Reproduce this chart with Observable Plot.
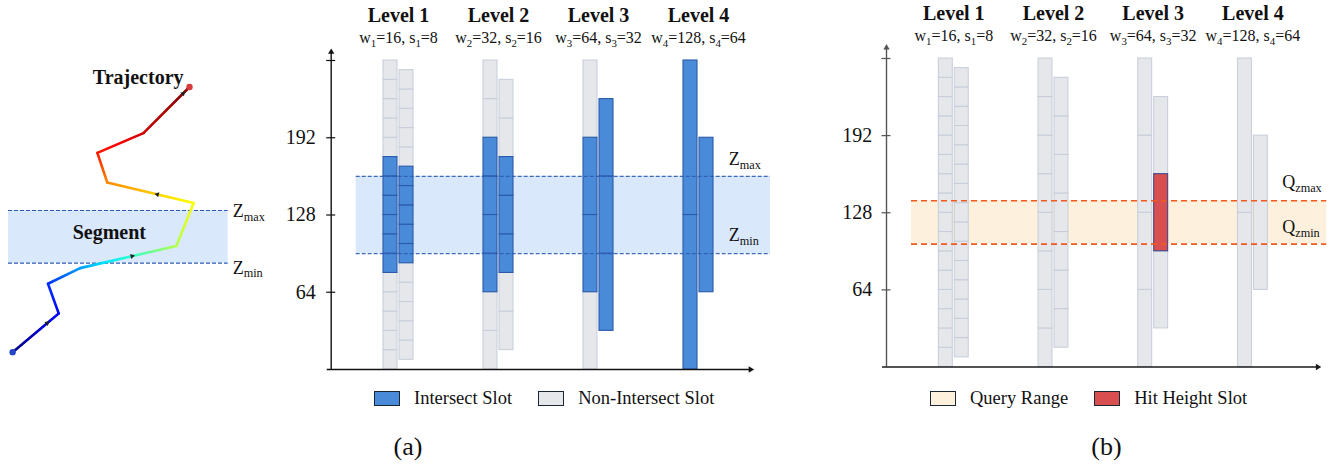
<!DOCTYPE html>
<html>
<head>
<meta charset="utf-8">
<script src="https://cdn.jsdelivr.net/npm/d3@7"></script>
<script src="https://cdn.jsdelivr.net/npm/@observablehq/plot@0.6"></script>
<style>
  html, body { margin: 0; background: #fff; }
  #fig { position: relative; width: 1338px; height: 464px; overflow: hidden;
         font-family: "Liberation Serif", "Times New Roman", Times, serif; color: #111; }
  #fig svg { position: absolute; left: 0; top: 0; }
  .legend { position: absolute; top: 390.7px; height: 15px; display: flex; align-items: center;
            font-size: 18.5px; line-height: 1; white-space: nowrap; }
  .legend .sw { box-sizing: border-box; width: 26px; height: 15px; border: 1.6px solid #1b2633; margin-right: 14px; }
  .legend .lab { margin-right: 26px; }
  .caption { position: absolute; font-size: 26px; line-height: 1; white-space: nowrap; transform: translateX(-50%); }
</style>
</head>
<body>
<div id="fig"></div>
<script>
// ---- data -------------------------------------------------------------
const levels = [1, 2, 3, 4];
const windowSizes = [16, 32, 64, 128];   // w_i
const strides = [8, 16, 32, 64];         // s_i
const maxHeight = 256;
const yTicks = [64, 128, 192];
const segmentRange = [96, 160];          // Z_min, Z_max
const queryRange = [102, 138];           // Q_zmin, Q_zmax

// sample trajectory (horizontal position, height, normalised time)
const trajX = [5, 61, 48, 87, 204, 225, 120, 108, 164, 220];
const trajZ = [-12, 35, 71, 90, 117, 169, 194, 230, 254, 310];
const trajT = [0, 0.13, 0.17, 0.28, 0.55, 0.62, 0.74, 0.85, 0.92, 1];
// direction markers: [segment index, fraction along it]
const trajArrows = [[0, 0.75], [3, 0.54], [5, 0.42], [8, 0.86]];

const legendA = ["Intersect Slot", "Non-Intersect Slot"];
const legendB = ["Query Range", "Hit Height Slot"];

// ---- styles -----------------------------------------------------------
const SERIF = '"Liberation Serif", "Times New Roman", Times, serif';
const W = 1338, H = 464;
const C = {
  blue: "#4a8bd9", blueEdge: "#2a5aa9",
  grey: "#e5e7eb", greyEdge: "#c6cdd9",
  segBand: "#dae8fc", segLine: "#2c5cb5",
  qBand: "#fdf0dd", qLine: "#f05a1e",
  hit: "#d94f4f", hitEdge: "#3d4690",
  ink: "#111"
};
const jet = d3.scaleLinear()
  .domain([0, 0.125, 0.375, 0.625, 0.875, 1])
  .range(["#00007f", "#0000ff", "#00ffff", "#ffff00", "#ff0000", "#7f0000"]);

const fig = document.getElementById("fig");

function baseOptions(extra) {
  return Object.assign({
    width: W, height: H, margin: 0,
    color: {type: "identity"},
    style: {background: "transparent", fontFamily: SERIF, color: C.ink, overflow: "visible"}
  }, extra);
}

// turn "w_1=16" / "Z_max" into real subscripts
function applySubscripts(svg) {
  d3.select(svg).selectAll("text").each(function () {
    const raw = this.textContent;
    if (!raw.includes("_")) return;
    const size = parseFloat(getComputedStyle(this).fontSize) || 16;
    const shift = size * 0.22;
    const parts = raw.split(/_([A-Za-z0-9]+)/);
    const t = d3.select(this).text(null);
    let lowered = false;
    parts.forEach((p, i) => {
      if (!p) return;
      const isSub = i % 2 === 1;
      const span = t.append("tspan").text(p);
      if (isSub) span.attr("font-size", size * 0.68);
      if (isSub !== lowered) { span.attr("dy", isSub ? shift : -shift); lowered = isSub; }
    });
  });
}

// ---- slot layout shared by both panels --------------------------------
const slots = levels.flatMap((level, i) => {
  const w = windowSizes[i], s = strides[i];
  return [[0, 0, maxHeight], [1, s, maxHeight - s]].flatMap(([col, from, to]) =>
    d3.range(from, to, w).map(z => ({level, w, col, z1: z, z2: z + w})));
});
const slotX1 = d => d.level + (d.col ? 0.01 : -0.15);
const slotX2 = d => d.level + (d.col ? 0.15 : -0.01);

function axisMarks(F, yColor, xColor) {
  return [
    Plot.ruleX([F.axisX], {y1: 0, y2: F.yEnd, stroke: yColor, strokeWidth: 1.4}),
    Plot.ruleY([0], {x1: F.axisX - 0.04, x2: F.xEnd, stroke: xColor, strokeWidth: 1.6}),
    Plot.dot([0], {x: F.axisX, y: F.yEnd, symbol: "triangle2", r: 3, fill: yColor}),
    Plot.dot([0], {x: F.xEnd, y: 0, symbol: "triangle2", r: 3, rotate: 90, fill: xColor}),
    Plot.ruleY([...yTicks, maxHeight], {x1: F.axisX - 0.045, x2: F.axisX + 0.045, stroke: yColor, strokeWidth: 1.2}),
    Plot.text(yTicks, {x: F.axisX, y: d => d, text: d => `${d}`, textAnchor: "end", dx: F.tickDx, fontSize: 20})
  ];
}

function levelHeaders(F) {
  return [
    Plot.text(levels, {x: d => d, frameAnchor: "top", lineAnchor: "bottom", dy: F.titleY,
      text: d => `Level ${d}`, fontSize: 20, fontWeight: "bold"}),
    Plot.text(levels, {x: d => d, frameAnchor: "top", lineAnchor: "bottom", dy: F.subY,
      text: (d, i) => `w_${d}=${windowSizes[i]}, s_${d}=${strides[i]}`, fontSize: 16})
  ];
}

// ---- trajectory -------------------------------------------------------
const traj = trajX.map((x, i) => ({x, z: trajZ[i], t: trajT[i]}));
const trajSegs = d3.pairs(traj).map(([a, b]) => ({a, b}));
const arrowPts = trajArrows.map(([k, f]) => {
  const {a, b} = trajSegs[k];
  return {x: a.x + f * (b.x - a.x), z: a.z + f * (b.z - a.z),
          angle: Math.atan2(b.x - a.x, b.z - a.z) * 180 / Math.PI};
});
const [zMin, zMax] = segmentRange;
const T = {band: [0, 267]};

const trajPlot = Plot.plot(baseOptions({
  x: {domain: [0, 267], range: [8, 227.7], axis: null},
  y: {domain: [zMin, zMax], range: [262.7, 210], axis: null},
  marks: [
    Plot.rect([segmentRange], {x1: T.band[0], x2: T.band[1], y1: zMin, y2: zMax, fill: C.segBand}),
    Plot.ruleY(segmentRange, {x1: T.band[0], x2: T.band[1], stroke: C.segLine, strokeWidth: 1.2, strokeDasharray: "4,2"}),
    Plot.link(trajSegs, {x1: d => d.a.x, y1: d => d.a.z, x2: d => d.b.x, y2: d => d.b.z,
      stroke: "#888", strokeWidth: 2.6, strokeLinecap: "round"}),
    Plot.dot(arrowPts, {x: "x", y: "z", rotate: "angle", symbol: "triangle2", r: 2.4, fill: "#222"}),
    Plot.dot([traj[0]], {x: "x", y: "z", r: 3.2, fill: "#2446c6"}),
    Plot.dot([traj[traj.length - 1]], {x: "x", y: "z", r: 3.2, fill: "#d63a3a"}),
    Plot.text([traj[traj.length - 1]], {x: "x", y: "z", text: () => "Trajectory", textAnchor: "end",
      lineAnchor: "bottom", dx: -6, dy: -3.4, fontSize: 20, fontWeight: "bold"}),
    Plot.text([segmentRange], {x: (T.band[0] + T.band[1]) / 2, y: (zMin + zMax) / 2, text: () => "Segment",
      dx: -9, dy: -4, fontSize: 20, fontWeight: "bold"}),
    Plot.text(["Z_max"], {x: T.band[1], y: zMax, text: d => d, textAnchor: "start", lineAnchor: "bottom",
      dx: 4.5, dy: 6.5, fontSize: 18}),
    Plot.text(["Z_min"], {x: T.band[1], y: zMin, text: d => d, textAnchor: "start", lineAnchor: "bottom",
      dx: 4.5, dy: 10.3, fontSize: 18})
  ]
}));
fig.appendChild(trajPlot);
applySubscripts(trajPlot);
{
  // colour each segment with a gradient along its own direction
  const sx = trajPlot.scale("x"), sy = trajPlot.scale("y");
  const svg = d3.select(trajPlot);
  const defs = svg.append("defs");
  svg.selectAll('g[aria-label="link"] path').each(function (_, i) {
    const {a, b} = trajSegs[i];
    const id = `trajGrad${i}`;
    const g = defs.append("linearGradient").attr("id", id).attr("gradientUnits", "userSpaceOnUse")
      .attr("x1", sx.apply(a.x)).attr("y1", sy.apply(a.z))
      .attr("x2", sx.apply(b.x)).attr("y2", sy.apply(b.z));
    d3.range(0, 1.0001, 0.25).forEach(f => g.append("stop").attr("offset", f)
      .attr("stop-color", jet(a.t + f * (b.t - a.t))));
    d3.select(this).attr("stroke", `url(#${id})`);
  });
}

// ---- panel (a): slots intersecting the segment ------------------------
const A = {axisX: 0.327, band: [0.577, 4.72], xEnd: 4.52, yEnd: 263, labelX: 4.303,
           tickDx: -15.5, titleY: 21, subY: 42.7};
const intersects = d => d.z1 <= zMax && d.z2 >= zMin;

const plotA = Plot.plot(baseOptions({
  x: {domain: [1, 4], range: [398, 698], axis: null},
  y: {domain: [0, maxHeight], range: [369, 60], axis: null},
  marks: [
    Plot.rect([segmentRange], {x1: A.band[0], x2: A.band[1], y1: zMin, y2: zMax, fill: C.segBand}),
    Plot.rect(slots.filter(d => !intersects(d)), {x1: slotX1, x2: slotX2, y1: "z1", y2: "z2",
      fill: C.grey, stroke: C.greyEdge, strokeWidth: 1}),
    Plot.rect(slots.filter(intersects), {x1: slotX1, x2: slotX2, y1: "z1", y2: "z2",
      fill: C.blue, stroke: C.blueEdge, strokeWidth: 1.1}),
    Plot.ruleY(segmentRange, {x1: A.band[0], x2: A.band[1], stroke: C.segLine, strokeWidth: 1.2,
      strokeDasharray: "4,2", strokeOpacity: 0.9}),
    ...axisMarks(A, C.ink, C.ink),
    ...levelHeaders(A),
    Plot.text(["Z_max"], {x: A.labelX, y: zMax, text: d => d, textAnchor: "start", lineAnchor: "bottom", dy: -11, fontSize: 18}),
    Plot.text(["Z_min"], {x: A.labelX, y: zMin, text: d => d, textAnchor: "start", lineAnchor: "bottom", dy: -13, fontSize: 18})
  ]
}));
fig.appendChild(plotA);
applySubscripts(plotA);

// ---- panel (b): slot that covers the query range ----------------------
const [qMin, qMax] = queryRange;
const covers = d => d.z1 <= qMin && d.z2 >= qMax;
const hitW = d3.min(slots.filter(covers), d => d.w);
const isHit = d => covers(d) && d.w === hitW;
const B = {axisX: 0.325, band: [0.576, 4.741], xEnd: 4.65, yEnd: 265, labelX: 4.294,
           tickDx: -14.3, titleY: 19, subY: 40.7};

const plotB = Plot.plot(baseOptions({
  x: {domain: [1, 4], range: [953.3, 1252.4], axis: null},
  y: {domain: [0, maxHeight], range: [366.5, 58], axis: null},
  marks: [
    Plot.rect([queryRange], {x1: B.band[0], x2: B.band[1], y1: qMin, y2: qMax, fill: C.qBand}),
    Plot.rect(slots.filter(d => !isHit(d)), {x1: slotX1, x2: slotX2, y1: "z1", y2: "z2",
      fill: C.grey, stroke: C.greyEdge, strokeWidth: 1}),
    Plot.rect(slots.filter(isHit), {x1: slotX1, x2: slotX2, y1: "z1", y2: "z2",
      fill: C.hit, stroke: C.hitEdge, strokeWidth: 1.1}),
    Plot.ruleY(queryRange, {x1: B.band[0], x2: B.band[1], stroke: C.qLine, strokeWidth: 1.6,
      strokeDasharray: "6,4"}),
    ...axisMarks(B, "#555", "#1a1a1a"),
    ...levelHeaders(B),
    Plot.text(["Q_zmax"], {x: B.labelX, y: qMax, text: d => d, textAnchor: "start", lineAnchor: "bottom", dy: -12.7, fontSize: 18}),
    Plot.text(["Q_zmin"], {x: B.labelX, y: qMin, text: d => d, textAnchor: "start", lineAnchor: "bottom", dy: -11.3, fontSize: 18})
  ]
}));
fig.appendChild(plotB);
applySubscripts(plotB);

// ---- legends and captions ---------------------------------------------
function legend(labels, fills, left) {
  const div = document.createElement("div");
  div.className = "legend";
  div.style.left = left + "px";
  labels.forEach((label, i) => {
    const sw = document.createElement("span");
    sw.className = "sw"; sw.style.background = fills[i];
    const lab = document.createElement("span");
    lab.className = "lab"; lab.textContent = label;
    div.append(sw, lab);
  });
  fig.appendChild(div);
}
legend(legendA, [C.blue, C.grey], 374);
legend(legendB, [C.qBand, C.hit], 930);

function caption(text, cx) {
  const div = document.createElement("div");
  div.className = "caption";
  div.textContent = text;
  div.style.left = cx + "px";
  div.style.top = (455.4 - 0.8375 * 26) + "px";
  fig.appendChild(div);
}
caption("(a)", 408);
caption("(b)", 1106.5);
</script>
</body>
</html>
